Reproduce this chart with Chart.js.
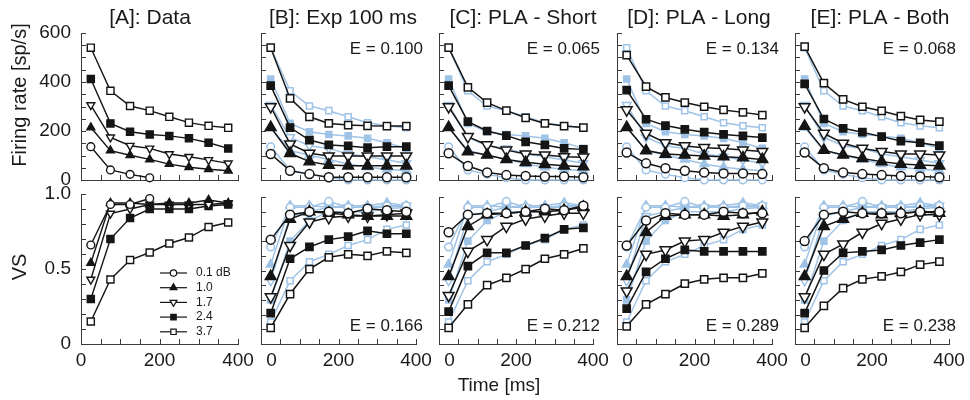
<!DOCTYPE html>
<html>
<head>
<meta charset="utf-8">
<script src="https://cdn.jsdelivr.net/npm/chart.js@4.4.1/dist/chart.umd.min.js"></script>
<style>
  html, body { margin: 0; padding: 0; background: #fff; }
  #wrap { position: relative; width: 970px; height: 400px; overflow: hidden; }
  #wrap canvas { position: absolute; left: 0; top: 0; }
</style>
</head>
<body>
<div id="wrap"></div>
<script>
const times = [25, 75, 125, 175, 225, 275, 325, 375];
const levels = ['0.1 dB', '1.0', '1.7', '2.4', '3.7'];
const panelTitles = ['[A]: Data', '[B]: Exp 100 ms', '[C]: PLA - Short', '[D]: PLA - Long', '[E]: PLA - Both'];
const errRate = [null, '0.100', '0.065', '0.134', '0.068'];
const errVS = [null, '0.166', '0.212', '0.289', '0.238'];

// measured data (panel A, light blue in B-E); rows follow levels
const rateData = [
  [136, 41, 23, 9, 0, 0, 0, 0],
  [214, 120, 101, 84, 65, 52, 44, 38],
  [306, 174, 140, 129, 106, 95, 82, 68],
  [412, 231, 197, 186, 180, 170, 152, 129],
  [540, 364, 302, 283, 258, 234, 221, 213]
];
const vsData = [
  [0.66, 0.93, 0.93, 0.97, 0.93, 0.93, 0.94, 0.94],
  [0.54, 0.94, 0.94, 0.93, 0.94, 0.94, 0.96, 0.94],
  [0.43, 0.87, 0.90, 0.93, 0.93, 0.93, 0.93, 0.94],
  [0.30, 0.70, 0.84, 0.90, 0.90, 0.90, 0.92, 0.93],
  [0.15, 0.43, 0.56, 0.61, 0.67, 0.71, 0.78, 0.81]
];
const pointsShownA = [4, 8, 8, 8, 8];

// model fits
const rateExp = [
  [106, 38, 24, 11, 11, 11, 11, 11],
  [215, 109, 75, 61, 58, 58, 58, 58],
  [299, 147, 109, 98, 98, 98, 98, 98],
  [385, 214, 163, 143, 139, 132, 136, 136],
  [540, 333, 258, 231, 224, 221, 220, 220]
];
const vsExp = [
  [0.71, 0.88, 0.90, 0.90, 0.89, 0.92, 0.91, 0.90],
  [0.46, 0.85, 0.90, 0.89, 0.88, 0.87, 0.87, 0.87],
  [0.32, 0.67, 0.83, 0.86, 0.87, 0.87, 0.88, 0.89],
  [0.21, 0.58, 0.66, 0.71, 0.73, 0.77, 0.75, 0.75],
  [0.11, 0.34, 0.51, 0.59, 0.61, 0.60, 0.63, 0.62]
];
const rateShort = [
  [109, 57, 31, 20, 16, 14, 14, 11],
  [215, 116, 102, 84, 72, 64, 58, 54],
  [299, 177, 143, 122, 106, 102, 95, 93],
  [385, 238, 200, 181, 156, 143, 129, 125],
  [540, 378, 316, 283, 254, 231, 220, 214]
];
const vsShort = [
  [0.76, 0.88, 0.89, 0.89, 0.90, 0.92, 0.91, 0.94],
  [0.46, 0.80, 0.88, 0.89, 0.90, 0.90, 0.91, 0.93],
  [0.33, 0.63, 0.71, 0.80, 0.85, 0.87, 0.89, 0.89],
  [0.22, 0.53, 0.62, 0.62, 0.67, 0.72, 0.78, 0.79],
  [0.11, 0.27, 0.40, 0.45, 0.51, 0.58, 0.61, 0.65]
];
const rateLong = [
  [112, 68, 48, 38, 31, 27, 27, 24],
  [215, 120, 106, 102, 98, 95, 91, 84],
  [286, 190, 152, 139, 132, 129, 122, 116],
  [367, 248, 222, 207, 195, 186, 180, 173],
  [510, 381, 337, 316, 299, 286, 276, 265]
];
const vsLong = [
  [0.67, 0.84, 0.89, 0.88, 0.88, 0.90, 0.89, 0.89],
  [0.46, 0.76, 0.87, 0.88, 0.88, 0.87, 0.88, 0.90],
  [0.36, 0.61, 0.64, 0.70, 0.71, 0.76, 0.80, 0.83],
  [0.24, 0.49, 0.58, 0.64, 0.63, 0.63, 0.63, 0.63],
  [0.12, 0.27, 0.34, 0.41, 0.44, 0.45, 0.45, 0.48]
];
const rateBoth = [
  [112, 48, 31, 24, 20, 16, 14, 11],
  [220, 122, 102, 88, 75, 65, 61, 58],
  [299, 190, 150, 129, 116, 106, 106, 102],
  [392, 249, 211, 195, 177, 159, 152, 140],
  [544, 395, 329, 299, 282, 261, 245, 238]
];
const vsBoth = [
  [0.70, 0.88, 0.90, 0.89, 0.89, 0.89, 0.90, 0.90],
  [0.46, 0.80, 0.85, 0.89, 0.88, 0.89, 0.90, 0.89],
  [0.32, 0.61, 0.68, 0.76, 0.82, 0.85, 0.88, 0.88],
  [0.21, 0.50, 0.62, 0.63, 0.64, 0.67, 0.69, 0.71],
  [0.11, 0.26, 0.38, 0.44, 0.46, 0.49, 0.54, 0.56]
];

const rateSets = [rateData, rateExp, rateShort, rateLong, rateBoth];
const vsSets = [vsData, vsExp, vsShort, vsLong, vsBoth];

// layout (page pixels)
const colLeft = [81, 261, 439, 617, 795];
const colRight = [238, 416, 593, 772, 949];
const rowTop = [[33, 33, 33, 33, 33], [194, 197, 197, 197, 197]];
const rowBottom = [180, 344];
const titleX = [150, 343, 523, 699, 880];

const FONT = '"Liberation Sans", Arial, Helvetica, sans-serif';
const black = '#151515';
const blue = '#9fc3e6';
const axisColor = '#3a3a3a';
const textColor = '#1a1a1a';
const tickLen = 5;
const Y_W = 80, X_H = 30;

const markers = [
  { style: 'circle', rot: 0, open: true },
  { style: 'triangle', rot: 0, open: false },
  { style: 'triangle', rot: 180, open: true },
  { style: 'rect', rot: 0, open: false },
  { style: 'rect', rot: 0, open: true }
];
const sizeA = [3.9, 4.6, 4.6, 5, 5];
const sizeModel = [4.5, 6.2, 6.2, 5.1, 5.1];
const sizeBlue = [3.8, 5, 5, 4.3, 4.3];

const wrap = document.getElementById('wrap');

const axisTicks = {
  id: 'axisTicks',
  beforeDatasetsDraw(chart) {
    const { ctx, chartArea: a, scales: { x, y } } = chart;
    ctx.save();
    ctx.strokeStyle = axisColor;
    ctx.lineWidth = 1;
    ctx.beginPath();
    x.ticks.forEach(t => {
      const px = Math.round(x.getPixelForValue(t.value)) + 0.5;
      ctx.moveTo(px, a.bottom);
      ctx.lineTo(px, a.bottom - tickLen);
    });
    y.ticks.forEach(t => {
      const py = Math.round(y.getPixelForValue(t.value)) + 0.5;
      ctx.moveTo(a.left, py);
      ctx.lineTo(a.left + tickLen, py);
    });
    ctx.stroke();
    ctx.restore();
  }
};

function drawMarker(ctx, i, x, y, r, color) {
  const m = markers[i];
  ctx.fillStyle = m.open ? '#fff' : color;
  ctx.strokeStyle = color;
  Chart.helpers.drawPoint(ctx, { pointStyle: m.style, rotation: m.rot, radius: r, borderWidth: 1.2 }, x, y);
}

function textPlugin(cfg) {
  return {
    id: 'panelText',
    afterDraw(chart) {
      const { ctx, chartArea: a } = chart;
      ctx.save();
      ctx.fillStyle = textColor;
      ctx.textBaseline = 'alphabetic';
      if (cfg.title) {
        ctx.font = '21px ' + FONT;
        ctx.textAlign = 'center';
        ctx.fillText(cfg.title, cfg.titleX, 24);
      }
      if (cfg.note) {
        ctx.font = '17px ' + FONT;
        ctx.textAlign = 'right';
        ctx.fillText(cfg.note, a.right + 7, cfg.noteY);
      }
      if (cfg.xTitle) {
        ctx.font = '19px ' + FONT;
        ctx.textAlign = 'center';
        ctx.fillText(cfg.xTitle, 499, 391);
      }
      if (cfg.yTitle) {
        ctx.save();
        ctx.font = '20px ' + FONT;
        ctx.textAlign = 'center';
        ctx.translate(26, cfg.yTitleY);
        ctx.rotate(-Math.PI / 2);
        ctx.fillText(cfg.yTitle, 0, 0);
        ctx.restore();
      }
      if (cfg.legend) {
        ctx.font = '12px ' + FONT;
        ctx.textAlign = 'left';
        ctx.textBaseline = 'middle';
        const legSize = [3.2, 4, 4, 3.8, 3.8];
        levels.forEach((lab, i) => {
          const ly = 273 + i * 14.7;
          ctx.strokeStyle = black;
          ctx.lineWidth = 1.2;
          ctx.beginPath();
          ctx.moveTo(160, ly);
          ctx.lineTo(187, ly);
          ctx.stroke();
          drawMarker(ctx, i, 173.5, ly, legSize[i], black);
          ctx.fillStyle = textColor;
          ctx.fillText(lab, 196, ly);
        });
      }
      ctx.restore();
    }
  };
}

function series(values, i, r, color, lw, order, n) {
  const m = markers[i];
  return {
    data: times.slice(0, n).map((t, k) => ({ x: t, y: values[k] })),
    borderColor: color,
    borderWidth: lw,
    pointStyle: m.style,
    pointRotation: m.rot,
    pointRadius: r,
    pointBorderWidth: lw,
    pointBorderColor: color,
    pointBackgroundColor: m.open ? '#fff' : color,
    tension: 0,
    clip: false,
    order: order
  };
}

function makePanel(col, row) {
  const canvas = document.createElement('canvas');
  canvas.width = 970;
  canvas.height = 400;
  wrap.appendChild(canvas);

  const isRate = row === 0;
  const sets = isRate ? rateSets : vsSets;
  const top = rowTop[row][col];
  const bottom = rowBottom[row];
  const datasets = [];

  if (col === 0) {
    sets[0].forEach((vals, i) => datasets.push(series(vals, i, sizeA[i], black, 1.4, 1, pointsShownA[i])));
  } else {
    sets[col].forEach((vals, i) => datasets.push(series(vals, i, sizeModel[i], black, 1.5, 1, 8)));
    sets[0].forEach((vals, i) => datasets.push(series(vals, i, sizeBlue[i], blue, 1.5, 2, 8)));
  }

  const cfg = {};
  if (isRate) {
    cfg.title = panelTitles[col];
    cfg.titleX = titleX[col];
  }
  if (col > 0) {
    cfg.note = 'E = ' + (isRate ? errRate[col] : errVS[col]);
    cfg.noteY = isRate ? 54 : 331;
  }
  if (col === 0) {
    cfg.yTitle = isRate ? 'Firing rate [sp/s]' : 'VS';
    cfg.yTitleY = isRate ? 95 : 267;
  }
  if (col === 0 && !isRate) cfg.legend = true;
  if (col === 2 && !isRate) cfg.xTitle = 'Time [ms]';

  new Chart(canvas, {
    type: 'line',
    data: { datasets },
    options: {
      responsive: false,
      animation: false,
      events: [],
      layout: {
        padding: { left: colLeft[col] - Y_W, right: 970 - colRight[col], top: top, bottom: 400 - bottom - X_H }
      },
      plugins: { legend: { display: false }, tooltip: { enabled: false } },
      scales: {
        x: {
          type: 'linear',
          min: 0,
          max: 400,
          grid: { display: false, drawTicks: false },
          border: { display: true, color: axisColor, width: 1 },
          afterFit: s => { s.height = X_H; },
          ticks: {
            stepSize: 50,
            autoSkip: false,
            maxRotation: 0,
            padding: 5,
            color: textColor,
            font: { family: FONT, size: 19 },
            callback: v => {
              if (isRate || v % 200 !== 0) return '';
              return (v === 0 && col > 0) ? '    0' : String(v);
            }
          }
        },
        y: {
          type: 'linear',
          min: 0,
          max: isRate ? 600 : 1,
          grid: { display: false, drawTicks: false },
          border: { display: true, color: axisColor, width: 1 },
          afterFit: s => { s.width = Y_W; },
          ticks: {
            stepSize: isRate ? 50 : 0.1,
            autoSkip: false,
            padding: 10,
            color: textColor,
            font: { family: FONT, size: 19 },
            callback: v => {
              if (col > 0) return '';
              if (isRate) return v % 200 === 0 ? String(v) : '';
              if (Math.abs(v) < 1e-6) return '0';
              if (Math.abs(v - 0.5) < 1e-6) return '0.5';
              if (Math.abs(v - 1) < 1e-6) return '1.0';
              return '';
            }
          }
        }
      }
    },
    plugins: [axisTicks, textPlugin(cfg)]
  });
}

for (let row = 0; row < 2; row++) {
  for (let col = 0; col < 5; col++) makePanel(col, row);
}
</script>
</body>
</html>
